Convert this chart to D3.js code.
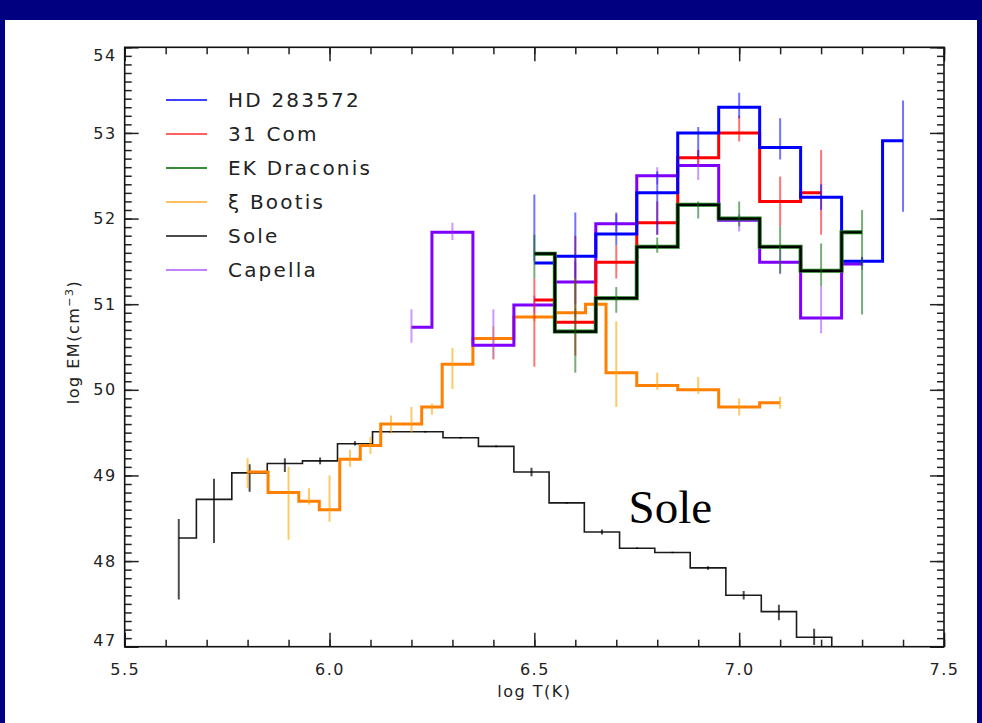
<!DOCTYPE html>
<html>
<head>
<meta charset="utf-8">
<script src="https://cdn.jsdelivr.net/npm/d3@7"></script>
<style>
  html, body { margin: 0; padding: 0; background: #000080; }
  svg { display: block; }
  .axis text { font-family: "DejaVu Sans", sans-serif; font-size: 16px; fill: #222; letter-spacing: 1.5px; }
  .axis line { stroke: #222; stroke-width: 1.5; }
  .axis path { display: none; }
</style>
</head>
<body>
<div id="graph01"></div>
<script>
// log T の目盛り
const xTicksMajor = [5.5, 6.0, 6.5, 7.0, 7.5];
const yTicksMajor = [47, 48, 49, 50, 51, 52, 53, 54];

// Sole
const soleT  = [5.632, 5.718, 5.805, 5.891, 5.977, 6.062, 6.148, 6.234, 6.320, 6.407, 6.493, 6.579, 6.665, 6.751, 6.837, 6.924, 7.011, 7.097, 7.183, 7.269];
const soleEM = [48.27, 48.72, 49.03, 49.14, 49.17, 49.37, 49.51, 49.51, 49.44, 49.34, 49.04, 48.68, 48.34, 48.15, 48.10, 47.92, 47.60, 47.41, 47.11, 46.80];
const soleLo = [47.55, 48.21, 48.81, 49.04, 49.13, 49.35, 49.50, 49.50, 49.43, 49.33, 48.99, 48.67, 48.31, 48.14, 48.09, 47.90, 47.55, 47.31, 47.02, 46.80];
const soleHi = [48.49, 48.96, 49.13, 49.20, 49.21, 49.40, 49.52, 49.52, 49.45, 49.35, 49.09, 48.69, 48.37, 48.16, 48.11, 47.94, 47.65, 47.49, 47.21, 46.80];

// xi Bootis
const booT  = [5.80, 5.90, 5.95, 6.00, 6.05, 6.10, 6.15, 6.20, 6.25, 6.30, 6.40, 6.50, 6.60, 6.65, 6.70, 6.80, 6.90, 7.00, 7.10];
const booEM = [49.04, 48.80, 48.70, 48.60, 49.19, 49.35, 49.60, 49.60, 49.80, 50.30, 50.60, 50.85, 50.90, 51.00, 50.20, 50.05, 50.00, 49.80, 49.85];
const booLo = [48.85, 48.25, 48.66, 48.46, 49.10, 49.25, 49.49, 49.50, 49.71, 50.01, 50.35, 50.80, 50.85, 50.95, 49.80, 50.00, 49.95, 49.70, 49.78];
const booHi = [49.20, 49.10, 48.85, 49.00, 49.30, 49.45, 49.70, 49.80, 49.84, 50.49, 50.74, 50.90, 50.95, 51.05, 50.80, 50.20, 50.15, 49.90, 49.92];

// Capella
const capT  = [6.2, 6.3, 6.4, 6.5, 6.6, 6.7, 6.8, 6.9, 7.0, 7.1, 7.2, 7.3];
const capEM = [50.73, 51.84, 50.52, 50.99, 51.26, 51.94, 52.50, 52.62, 51.98, 51.49, 50.84, 51.47];
const capLo = [50.55, 51.75, 50.36, 50.90, 51.00, 51.85, 52.40, 52.45, 51.85, 51.35, 50.66, 51.40];
const capHi = [50.94, 51.95, 50.94, 51.10, 51.50, 52.05, 52.60, 52.80, 52.05, 51.67, 51.21, 51.55];

// 31 Com
const comT  = [6.5, 6.6, 6.7, 6.8, 6.9, 7.0, 7.1, 7.2];
const comEM = [51.05, 50.79, 51.49, 51.95, 52.71, 53.00, 52.20, 52.30];
const comLo = [50.27, 50.40, 51.30, 51.81, 52.63, 52.90, 51.91, 51.81];
const comHi = [51.30, 51.80, 51.69, 52.20, 52.80, 53.20, 52.49, 52.80];

// HD 283572
const hdT  = [6.5, 6.6, 6.7, 6.8, 6.9, 7.0, 7.1, 7.2, 7.3, 7.4];
const hdEM = [51.48, 51.56, 51.82, 52.30, 53.00, 53.30, 52.83, 52.25, 51.50, 52.91];
const hdLo = [51.50, 51.30, 51.69, 51.81, 52.72, 53.17, 52.69, 52.10, 51.45, 52.08];
const hdHi = [52.28, 52.07, 52.07, 52.55, 53.07, 53.47, 53.17, 52.40, 51.55, 53.38];

// EK Draconis
const ekT  = [6.5, 6.6, 6.7, 6.8, 6.9, 7.0, 7.1, 7.2, 7.3];
const ekEM = [51.59, 50.68, 51.07, 51.67, 52.16, 52.00, 51.67, 51.39, 51.84];
const ekLo = [51.30, 50.20, 50.90, 51.60, 52.00, 51.91, 51.36, 51.21, 50.88];
const ekHi = [51.81, 51.30, 51.20, 51.78, 52.20, 52.20, 51.91, 51.71, 52.10];

// 凡例の順番
const legendNames = ["HD 283572", "31 Com", "EK Draconis", "\u03BE Bootis", "Sole", "Capella"];

(function() {
    const W = 982, H = 723;
    const svg = d3.select('#graph01').append("svg").attr("width", W).attr("height", H);

    // 背景（紺の枠と白い面）
    svg.append("rect").attr("width", W).attr("height", H).attr("fill", "#000080");
    svg.append("rect").attr("x", 5).attr("y", 20).attr("width", W - 10).attr("height", H - 20).attr("fill", "#fff");

    const scale = setupGraph(svg);

    const series = [
        { name: "Sole",        t: soleT, em: soleEM, lo: soleLo, hi: soleHi, color: "#1a1a1a", width: 1.6, errColor: "#000", errOpacity: 0.7 },
        { name: "\u03BE Bootis", t: booT, em: booEM, lo: booLo, hi: booHi, color: "#ff8000", width: 3, errColor: "#ffa500", errOpacity: 0.6 },
        { name: "Capella",     t: capT, em: capEM, lo: capLo, hi: capHi, color: "#7f00ff", width: 3, errColor: "#9b30ff", errOpacity: 0.5 },
        { name: "31 Com",      t: comT, em: comEM, lo: comLo, hi: comHi, color: "#ff0000", width: 3, errColor: "#ff0000", errOpacity: 0.55 },
        { name: "HD 283572",   t: hdT,  em: hdEM,  lo: hdLo,  hi: hdHi,  color: "#0000ff", width: 3, errColor: "#0000ff", errOpacity: 0.55 },
        { name: "EK Draconis", t: ekT,  em: ekEM,  lo: ekLo,  hi: ekHi,  color: "#000", width: 2.2, halo: "#1a7a1a", errColor: "#0a6a0a", errOpacity: 0.55 }
    ];

    const plot = svg.append("g").attr("clip-path", "url(#plotclip)");
    series.forEach(s => drawSeries(plot, s, scale));

    drawLegend(svg);

    // 「Sole」の注記
    svg.append("text")
        .attr("x", scale.x(6.73))
        .attr("y", scale.y(48.44))
        .attr("font-family", "'Liberation Serif', 'Times New Roman', serif")
        .attr("font-size", 47)
        .attr("fill", "#000")
        .text("Sole");
})();

function setupGraph(svg) {
    const left = 124.7, right = 944, top = 47.3, bottom = 646.7;

    const xScale = d3.scaleLinear().domain([5.5, 7.5]).range([left, right]);
    const yScale = d3.scaleLinear().domain([47, 54]).range([bottom, top]);

    svg.append("clipPath").attr("id", "plotclip")
        .append("rect").attr("x", left).attr("y", top)
        .attr("width", right - left).attr("height", bottom - top);

    const xMinor = d3.range(0, 21).map(i => 5.5 + i / 10);
    const yMinor = d3.range(0, 71).map(i => 47 + i / 10);

    // 小目盛り（4辺とも内向き）
    svg.append("g").attr("class", "axis").attr("transform", `translate(0,${bottom})`)
        .call(d3.axisBottom(xScale).tickValues(xMinor).tickSizeInner(-7).tickSizeOuter(0).tickFormat(""));
    svg.append("g").attr("class", "axis").attr("transform", `translate(0,${top})`)
        .call(d3.axisTop(xScale).tickValues(xMinor).tickSizeInner(-7).tickSizeOuter(0).tickFormat(""));
    svg.append("g").attr("class", "axis").attr("transform", `translate(${left},0)`)
        .call(d3.axisLeft(yScale).tickValues(yMinor).tickSizeInner(-7).tickSizeOuter(0).tickFormat(""));
    svg.append("g").attr("class", "axis").attr("transform", `translate(${right},0)`)
        .call(d3.axisRight(yScale).tickValues(yMinor).tickSizeInner(-7).tickSizeOuter(0).tickFormat(""));

    // 大目盛りとラベル
    svg.append("g").attr("class", "axis").attr("transform", `translate(0,${bottom})`)
        .call(d3.axisBottom(xScale).tickValues(xTicksMajor).tickSizeInner(-14).tickSizeOuter(0)
            .tickPadding(17).tickFormat(d3.format(".1f")));
    svg.append("g").attr("class", "axis").attr("transform", `translate(0,${top})`)
        .call(d3.axisTop(xScale).tickValues(xTicksMajor).tickSizeInner(-14).tickSizeOuter(0).tickFormat(""));
    const yAxis = svg.append("g").attr("class", "axis").attr("transform", `translate(${left},0)`)
        .call(d3.axisLeft(yScale).tickValues(yTicksMajor).tickSizeInner(-14).tickSizeOuter(0)
            .tickPadding(8).tickFormat(d3.format("d")));
    svg.append("g").attr("class", "axis").attr("transform", `translate(${right},0)`)
        .call(d3.axisRight(yScale).tickValues(yTicksMajor).tickSizeInner(-14).tickSizeOuter(0).tickFormat(""));

    // 端のラベルは少し内側へ
    yAxis.selectAll(".tick text")
        .attr("dy", d => d === 54 ? "0.85em" : d === 47 ? "-0.1em" : "0.32em");

    // 枠
    svg.append("rect")
        .attr("x", left).attr("y", top)
        .attr("width", right - left).attr("height", bottom - top)
        .attr("fill", "none").attr("stroke", "#111").attr("stroke-width", 1.6);

    // 軸タイトル
    svg.append("text")
        .attr("x", (left + right) / 2).attr("y", 697)
        .attr("text-anchor", "middle")
        .attr("font-family", "'DejaVu Sans', sans-serif").attr("font-size", 16)
        .attr("letter-spacing", 1.5).attr("fill", "#222")
        .text("log T(K)");

    const yt = svg.append("text")
        .attr("transform", `translate(79,${(top + bottom) / 2 - 5}) rotate(-90)`)
        .attr("text-anchor", "middle")
        .attr("font-family", "'DejaVu Sans', sans-serif").attr("font-size", 16)
        .attr("letter-spacing", 1.5).attr("fill", "#222");
    yt.append("tspan").text("log EM(cm");
    yt.append("tspan").attr("baseline-shift", "super").attr("font-size", 11).text("\u22123");
    yt.append("tspan").text(")");

    return { x: xScale, y: yScale };
}

function drawSeries(g, s, scale) {
    const pts = s.t.map((t, i) => ({ t: t, em: s.em[i], lo: s.lo[i], hi: s.hi[i] }));

    // IDL の psym=10 と同じ、中点で段になるヒストグラム線
    const line = d3.line()
        .curve(d3.curveStep)
        .x(d => scale.x(d.t))
        .y(d => scale.y(d.em));

    if (s.halo) {
        g.append("path").datum(pts)
            .attr("fill", "none").attr("stroke", s.halo).attr("stroke-width", 4)
            .attr("d", line);
    }
    g.append("path").datum(pts)
        .attr("fill", "none")
        .attr("stroke", s.color)
        .attr("stroke-width", s.width)
        .attr("d", line);

    // 誤差棒
    g.selectAll(null).data(pts).enter().append("line")
        .attr("x1", d => scale.x(d.t)).attr("x2", d => scale.x(d.t))
        .attr("y1", d => scale.y(d.lo)).attr("y2", d => scale.y(d.hi))
        .attr("stroke", s.errColor)
        .attr("stroke-opacity", s.errOpacity)
        .attr("stroke-width", 2);
}

function drawLegend(svg) {
    const colors = {
        "HD 283572": "#0000ff",
        "31 Com": "#ff6060",
        "EK Draconis": "#3a8a3a",
        "\u03BE Bootis": "#ffc060",
        "Sole": "#111",
        "Capella": "#c080ff"
    };
    const row = svg.append("g").selectAll("g").data(legendNames).enter().append("g")
        .attr("transform", (d, i) => `translate(166,${100 + i * 34})`);
    row.append("line")
        .attr("x1", 0).attr("x2", 41)
        .attr("stroke", d => colors[d])
        .attr("stroke-width", d => (d === "HD 283572" || d === "Sole") ? 1.5 : 2.2);
    row.append("text")
        .attr("x", 62).attr("y", 0).attr("dy", "0.36em")
        .attr("font-family", "'DejaVu Sans', sans-serif").attr("font-size", 20)
        .attr("letter-spacing", 2.2).attr("fill", "#222")
        .text(d => d);
}
</script>
</body>
</html>
